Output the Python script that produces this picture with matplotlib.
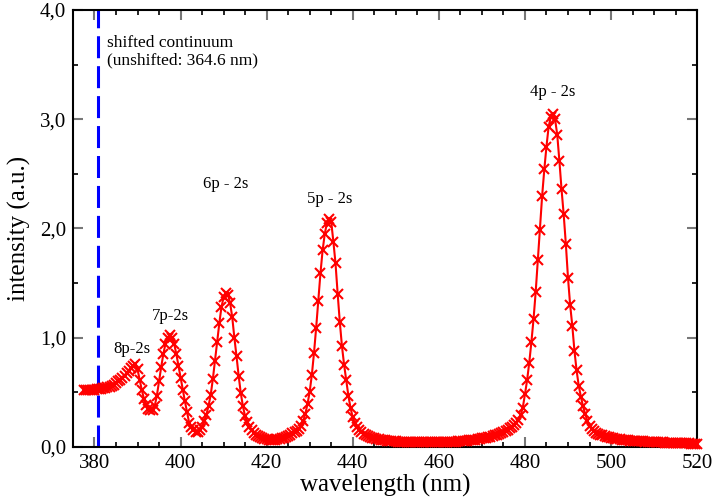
import numpy as np
import matplotlib
matplotlib.use("Agg")
import matplotlib.pyplot as plt
from matplotlib.ticker import MultipleLocator, FuncFormatter

plt.rcParams['font.family'] = ['Liberation Serif', 'DejaVu Serif']

wavelength = np.arange(377.5, 520.01, 0.5)
intensity = [
    0.52, 0.52, 0.52, 0.52, 0.522, 0.524, 0.526, 0.528, 0.531, 0.535,   # 377.5
    0.54, 0.545, 0.55, 0.56, 0.57, 0.585, 0.6, 0.615, 0.63, 0.65,       # 382.5
    0.672, 0.695, 0.718, 0.745, 0.763, 0.71, 0.615, 0.52, 0.44, 0.385,  # 387.5
    0.35, 0.335, 0.34, 0.375, 0.47, 0.6, 0.73, 0.85, 0.945, 1.0,        # 392.5
    1.02, 1.0, 0.945, 0.855, 0.745, 0.635, 0.525, 0.42, 0.32, 0.22,     # 397.5
    0.18, 0.152, 0.138, 0.138, 0.152, 0.185, 0.235, 0.295, 0.375, 0.475,  # 402.5
    0.62, 0.79, 0.96, 1.13, 1.28, 1.37, 1.41, 1.395, 1.32, 1.19,        # 407.5
    1.0, 0.83, 0.65, 0.49, 0.37, 0.28, 0.225, 0.185, 0.155, 0.13,       # 412.5
    0.112, 0.098, 0.088, 0.08, 0.074, 0.07, 0.067, 0.065, 0.065, 0.066,  # 417.5
    0.069, 0.073, 0.079, 0.085, 0.093, 0.102, 0.112, 0.123, 0.135, 0.148,  # 422.5
    0.165, 0.195, 0.24, 0.305, 0.395, 0.505, 0.66, 0.86, 1.09, 1.34,    # 427.5
    1.59, 1.8, 1.95, 2.05, 2.085, 2.06, 1.88, 1.68, 1.4, 1.14,          # 432.5
    0.92, 0.75, 0.61, 0.465, 0.355, 0.27, 0.215, 0.18, 0.155, 0.137,    # 437.5
    0.122, 0.11, 0.1, 0.091, 0.084, 0.078, 0.073, 0.069, 0.065, 0.062,  # 442.5
    0.059, 0.057, 0.055, 0.053, 0.051, 0.05, 0.049, 0.048, 0.047, 0.046,  # 447.5
    0.045, 0.045, 0.044, 0.044, 0.043, 0.043, 0.043, 0.042, 0.042, 0.042,  # 452.5
    0.042, 0.042, 0.042, 0.042, 0.042, 0.043, 0.043, 0.044, 0.044, 0.045,  # 457.5
    0.046, 0.047, 0.048, 0.049, 0.05, 0.052, 0.053, 0.055, 0.057, 0.059,  # 462.5
    0.061, 0.064, 0.067, 0.07, 0.073, 0.077, 0.081, 0.085, 0.09, 0.095,  # 467.5
    0.1, 0.106, 0.113, 0.12, 0.128, 0.137, 0.147, 0.158, 0.17, 0.185,   # 472.5
    0.2, 0.22, 0.245, 0.29, 0.36, 0.48, 0.61, 0.77, 0.96, 1.17,         # 477.5
    1.42, 1.71, 1.99, 2.3, 2.54, 2.75, 2.93, 3.02, 3.045, 3.0,          # 482.5
    2.86, 2.62, 2.36, 2.13, 1.86, 1.55, 1.3, 1.11, 0.88, 0.7,           # 487.5
    0.56, 0.46, 0.37, 0.3, 0.24, 0.195, 0.165, 0.145, 0.13, 0.12,       # 492.5
    0.112, 0.105, 0.098, 0.092, 0.087, 0.083, 0.079, 0.075, 0.072, 0.069,  # 497.5
    0.066, 0.064, 0.062, 0.06, 0.058, 0.057, 0.055, 0.054, 0.052, 0.051,  # 502.5
    0.05, 0.049, 0.048, 0.047, 0.046, 0.045, 0.044, 0.043, 0.042, 0.041,  # 507.5
    0.04, 0.039, 0.038, 0.038, 0.037, 0.036, 0.035, 0.035, 0.034, 0.033,  # 512.5
    0.033, 0.032, 0.031, 0.031, 0.03, 0.03,                             # 517.5
]

continuum_nm = 380.9
line_names = ['8p-2s', '7p-2s', '6p - 2s', '5p - 2s', '4p - 2s']
label_x = [388.6, 397.6, 410.6, 434.7, 486.4]
label_y = [0.90, 1.20, 2.41, 2.27, 3.25]

fig = plt.figure(figsize=(7.15, 5.01), dpi=100)
ax = fig.add_axes([0.102, 0.108, 0.873, 0.872])

ax.plot(wavelength, intensity, color='#ff0000', lw=1.5, marker='x',
        ms=6.5, mew=1.5, zorder=3, clip_on=False)
ax.axvline(continuum_nm, color='#0000ff', lw=2.2, dashes=(7.2, 2.6), zorder=2)

ax.text(383.0, 3.62, 'shifted continuum\n(unshifted: 364.6 nm)', fontsize=12.5,
        va='center', ha='left', linespacing=1.15)
for name, xx, yy in zip(line_names, label_x, label_y):
    ax.text(xx, yy, name, fontsize=12, ha='center', va='center')

ax.set_xlim(375, 520)
ax.set_ylim(0, 4)
ax.xaxis.set_major_locator(MultipleLocator(20))
ax.xaxis.set_minor_locator(MultipleLocator(5))
ax.yaxis.set_major_locator(MultipleLocator(1))
ax.yaxis.set_minor_locator(MultipleLocator(0.5))
ax.yaxis.set_major_formatter(FuncFormatter(lambda v, p: f'{v:.1f}'.replace('.', ',')))

ax.tick_params(which='both', direction='in', top=True, right=True, labelsize=15)
ax.tick_params(which='major', length=7, width=1.5, color='#777777', pad=5)
ax.tick_params(which='minor', length=3.5, width=1.2, color='black')
for s in ax.spines.values():
    s.set_linewidth(1.5)

ax.set_xlabel('wavelength (nm)', fontsize=18, labelpad=1)
ax.set_ylabel('intensity (a.u.)', fontsize=18, labelpad=6)

fig.savefig('out.png', dpi=100)
